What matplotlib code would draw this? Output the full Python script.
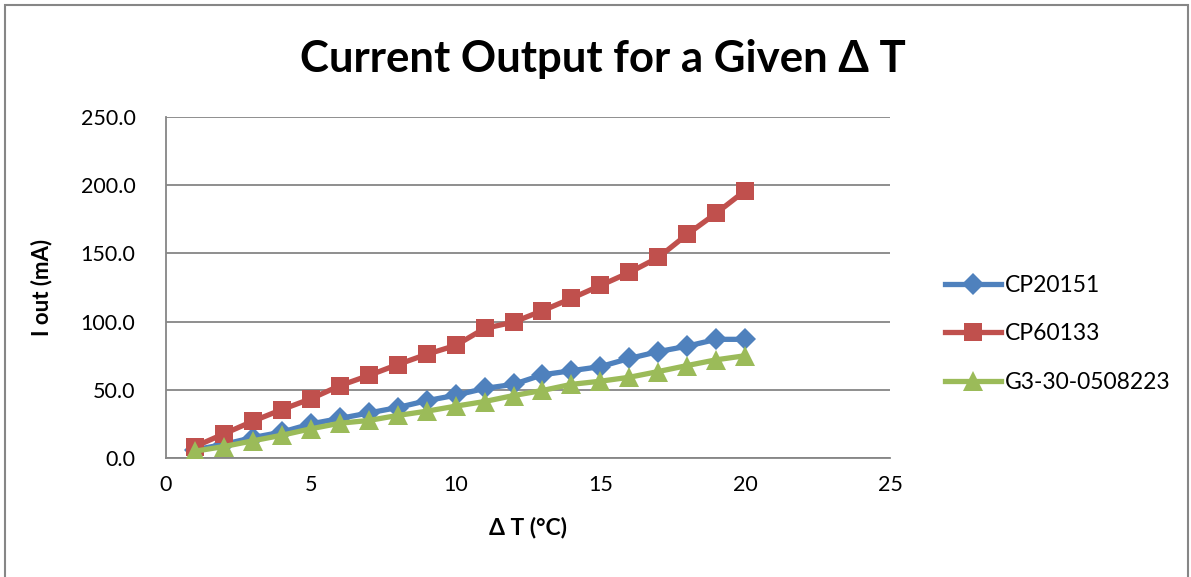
import matplotlib
matplotlib.use("Agg")
import matplotlib.pyplot as plt
from matplotlib.patches import Rectangle

# Temperature difference (°C)
delta_t = [1, 2, 3, 4, 5, 6, 7, 8, 9, 10, 11, 12, 13, 14, 15, 16, 17, 18, 19, 20]

# Output current (mA) per device
cp20151 = [6, 10, 15, 19, 25, 29, 33, 37, 42, 46, 51, 54, 61, 64, 67, 73, 78, 82, 87, 87]
cp60133 = [8.4, 17.7, 27, 35.5, 43.4, 53, 60.5, 68.5, 76, 82.5, 95, 99.6, 108, 117,
           126.5, 136, 147, 164, 179.5, 196]
g3_30 = [5, 8.4, 12.6, 16.7, 21.4, 25.5, 27.5, 31.2, 34.3, 38, 41.4, 45.8, 49.5, 54,
         56.3, 59.2, 63.4, 67.8, 72, 75]

series_names = ["CP20151", "CP60133", "G3-30-0508223"]
x_ticks = [0, 5, 10, 15, 20, 25]
y_ticks = [0, 50, 100, 150, 200, 250]

plt.rcParams["font.family"] = ["Lato", "DejaVu Sans"]

W, H = 1191, 577
fig = plt.figure(figsize=(W / 100, H / 100), dpi=100)
fig.patch.set_facecolor("white")

# chart frame
fig.patches.append(Rectangle((5 / W, -0.05), (1183 / W), (572 / H) + 0.05,
                             transform=fig.transFigure, fill=False,
                             edgecolor="#868686", linewidth=1.5))

ax = fig.add_axes([166 / W, 1 - 458 / H, (890 - 166) / W, (458 - 117) / H])

blue, red, green = "#4F81BD", "#C0504D", "#9BBB59"
ax.plot(delta_t, cp20151, color=blue, lw=3.8, marker="D", ms=11,
        markeredgewidth=0, label=series_names[0], zorder=3)
ax.plot(delta_t, cp60133, color=red, lw=3.8, marker="s", ms=13.5,
        markeredgewidth=0, label=series_names[1], zorder=3)
ax.plot(delta_t, g3_30, color=green, lw=3.8, marker="^", ms=15,
        markeredgewidth=0, label=series_names[2], zorder=4)

ax.set_xlim(0, 25)
ax.set_ylim(0, 250)
ax.set_xticks(x_ticks)
ax.set_yticks(y_ticks)
ax.set_yticklabels([f"{v:.1f}" for v in y_ticks])
ax.tick_params(axis="both", length=0, labelsize=15.5, colors="black")
ax.tick_params(axis="x", pad=12)
ax.tick_params(axis="y", pad=22)

ax.grid(axis="y", color="#868686", linewidth=1.3)
ax.set_axisbelow(True)
for side in ["top", "right"]:
    ax.spines[side].set_visible(False)
for side in ["left", "bottom"]:
    ax.spines[side].set_color("#868686")
    ax.spines[side].set_linewidth(1.3)

ax.set_xlabel("Δ T (°C)", fontsize=16.5, fontweight="bold", labelpad=16)
ax.set_ylabel("I out (mA)", fontsize=16, fontweight="bold", labelpad=20)

fig.text(603 / W, 1 - 59 / H, "Current Output for a Given Δ T", fontsize=31.5,
         fontweight="bold", ha="center", va="center")

leg = ax.legend(loc="center left", bbox_to_anchor=(945 / W, 1 - 334 / H),
                bbox_transform=fig.transFigure, frameon=False, fontsize=16.5,
                handlelength=2.45, handletextpad=0.15, labelspacing=1.22,
                borderaxespad=0, borderpad=0)

fig.savefig("out.png", dpi=100)
